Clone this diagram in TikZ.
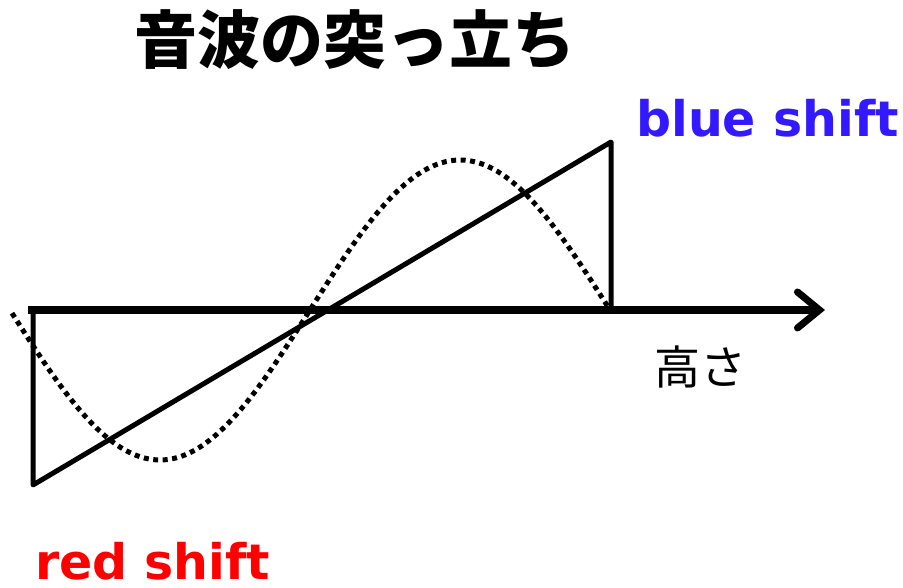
\documentclass[tikz,border=0pt]{standalone}
\usepackage{fontspec}
\setmainfont{DejaVu Sans}
\newfontfamily\jpfont{Noto Sans CJK JP}
\usepackage{tikz}
\usetikzlibrary{arrows.meta, positioning, calc}
\definecolor{shiftblue}{RGB}{51,25,255}
\definecolor{shiftred}{RGB}{255,0,0}
\tikzset{
    axisline/.style={line width=7.5pt, -{Straight Barb[length=22pt,width=36pt,line width=7pt,line cap=round]}},
    shockline/.style={line width=5pt, line cap=round, line join=round},
    soundwave/.style={line width=5pt, dash pattern=on 5pt off 4.5pt},
    titletext/.style={inner sep=0pt, font=\jpfont\bfseries\fontsize{63}{66}\selectfont},
    labeltext/.style={inner sep=0pt, font=\jpfont\fontsize{46}{48}\selectfont},
    shifttext/.style={inner sep=0pt, font=\bfseries\fontsize{49}{52}\selectfont}
}

\begin{document}
\begin{tikzpicture}[x=1pt, y=1pt]
    \useasboundingbox (0,0) rectangle (903,587);

    % axis
    \coordinate (origin) at (28,277);
    \coordinate (axisend) at (825,277);
    \draw[axisline] (origin) -- (axisend);

    % steepened wave
    \coordinate (low) at (33,102);
    \coordinate (lowtop) at (33,277);
    \coordinate (high) at (611,445);
    \coordinate (highfoot) at (611,280);
    \draw[shockline] (lowtop) -- (low) -- (high) -- (highfoot);

    % original sound wave
    \draw[soundwave] plot[domain=1.2:360, samples=150, variable=\t] ({10+\t*5/3}, {277-150*sin(\t)});

    \node[titletext] (title) at (355,547) {音波の突っ立ち};
    \node[labeltext] (height) at (700,220) {高さ};
    \node[shifttext, text=shiftblue, anchor=base west] (blue) at (636,450) {blue shift};
    \node[shifttext, text=shiftred, anchor=base west] (red) at (35,8) {red shift};
\end{tikzpicture}
\end{document}
